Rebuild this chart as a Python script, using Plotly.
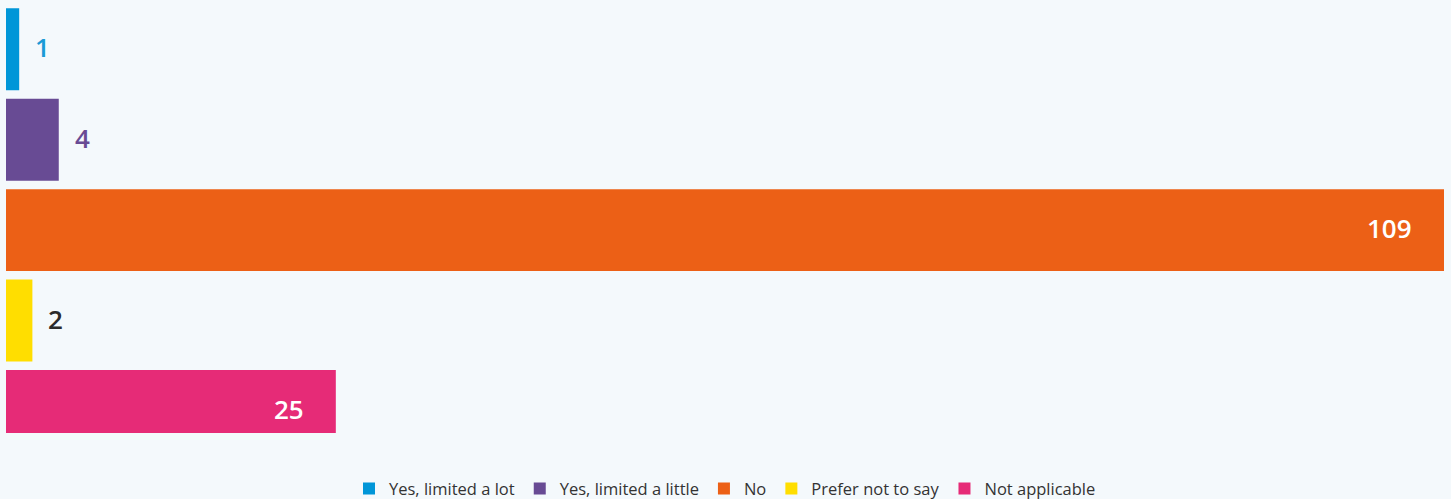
import plotly.graph_objects as go

categories = ["Yes, limited a lot", "Yes, limited a little", "No", "Prefer not to say", "Not applicable"]
values = [1, 4, 109, 2, 25]
colors = ["#0096D8", "#684B94", "#EC6016", "#FFDE00", "#E62B77"]
label_colors = ["#1A9AD6", "#684B94", "#FFFFFF", "#2B2B2B", "#FFFFFF"]
inside = [False, False, True, False, True]

fig = go.Figure()
for i, (cat, val, col) in enumerate(zip(categories, values, colors)):
    fig.add_trace(go.Bar(
        x=[val], y=[i], orientation="h", name=cat,
        marker=dict(color=col, line=dict(width=0)),
        width=0.906, hoverinfo="skip",
    ))

annotations = []
for i, (val, lc, ins) in enumerate(zip(values, label_colors, inside)):
    annotations.append(dict(
        x=val, y=i, xref="x", yref="y", text=str(val), showarrow=False,
        xanchor="right" if ins else "left",
        xshift=-30 if ins else 14, yshift=2,
        font=dict(family="Open Sans", size=26, weight=600, color=lc),
    ))

fig.update_layout(
    width=1451, height=499,
    paper_bgcolor="#F4F9FC", plot_bgcolor="#F4F9FC",
    margin=dict(l=6, r=7, t=4, b=66, autoexpand=False),
    barmode="overlay",
    showlegend=True,
    legend=dict(orientation="h", x=0.5, xanchor="center", y=-0.13, yanchor="middle",
                font=dict(family="Open Sans", size=16.5, color="#333333"),
                itemwidth=30, tracegroupgap=0),
    xaxis=dict(range=[0, 109], visible=False, fixedrange=True),
    yaxis=dict(range=[4.243, -0.5], visible=False, fixedrange=True),
    annotations=annotations,
)

fig.write_html("out.html", config={"displayModeBar": False},
               post_script="document.body.style.margin='0';document.body.style.background='#F4F9FC';")
